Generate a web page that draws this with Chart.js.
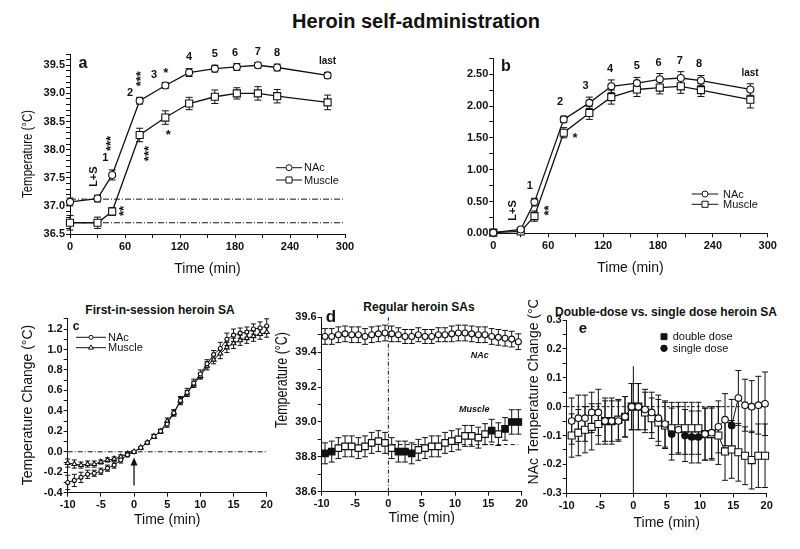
<!DOCTYPE html>
<html lang="en">
<head>
  <meta charset="UTF-8">
  <title>Heroin self-administration</title>
  <script src="https://cdn.jsdelivr.net/npm/chart.js"></script>
  <style>
    body { margin: 0; background: #fff; font-family: "Liberation Sans", Arial, sans-serif; }
    #page { position: relative; width: 800px; height: 549px; overflow: hidden; }
    canvas { position: absolute; }
    .ttl { position: absolute; font-weight: bold; color: #111; white-space: nowrap; transform: translateX(-50%); }
  </style>
</head>
<body>
<div id="page">
  <div class="ttl" style="left:416px; top:11px; font-size:20px; line-height:20px;">Heroin self-administration</div>
  <div class="ttl" style="left:160px; top:304px; font-size:12px; line-height:12px;">First-in-session heroin SA</div>
  <div class="ttl" style="left:419px; top:301px; font-size:12px; line-height:12px;">Regular heroin SAs</div>
  <div class="ttl" style="left:666px; top:306px; font-size:12px; line-height:12px;">Double-dose vs. single dose heroin SA</div>

  <canvas id="chartA" width="400" height="260" style="left:0; top:40px"></canvas>
  <canvas id="chartB" width="400" height="260" style="left:400px; top:40px"></canvas>
  <canvas id="chartC" width="280" height="249" style="left:0; top:300px"></canvas>
  <canvas id="chartD" width="270" height="249" style="left:260px; top:300px"></canvas>
  <canvas id="chartE" width="280" height="249" style="left:520px; top:300px"></canvas>
</div>

<script>
  // ---- data: panel a (absolute temperature) ----
  const TIME_A = [0, 30, 46, 76, 104, 130, 158, 182, 205, 226, 281];
  const NAC_A = [37.07, 37.13, 37.55, 38.87, 39.14, 39.37, 39.44, 39.47, 39.50, 39.46, 39.32];
  const NAC_A_ERR = [0.07, 0.06, 0.09, 0.06, 0.05, 0.07, 0.06, 0.06, 0.05, 0.06, 0.05];
  const MUS_A = [36.70, 36.70, 36.90, 38.26, 38.57, 38.82, 38.94, 39.00, 39.00, 38.95, 38.84];
  const MUS_A_ERR = [0.13, 0.10, 0.07, 0.12, 0.12, 0.11, 0.12, 0.10, 0.12, 0.12, 0.13];
  const BASE_A_NAC = 37.12;
  const BASE_A_MUS = 36.70;

  // ---- panel b (change from baseline) ----
  const TIME_B = [0, 30, 45, 77, 105, 129, 157, 182, 205, 227, 281];
  const NAC_B = [0.01, 0.06, 0.49, 1.79, 2.05, 2.31, 2.36, 2.42, 2.44, 2.40, 2.26];
  const NAC_B_ERR = [0.02, 0.03, 0.06, 0.05, 0.09, 0.10, 0.09, 0.09, 0.10, 0.08, 0.09];
  const MUS_B = [0.01, 0.03, 0.27, 1.58, 1.89, 2.14, 2.26, 2.29, 2.31, 2.25, 2.10];
  const MUS_B_ERR = [0.02, 0.02, 0.08, 0.08, 0.10, 0.11, 0.11, 0.10, 0.11, 0.10, 0.13];

  // ---- panel c (first-in-session) ----
  const TIME_C = [-10, -9, -8, -7, -6, -5, -4, -3, -2, -1, 0, 1, 2, 3, 4, 5, 6, 7, 8, 9, 10, 11, 12, 13, 14, 15, 16, 17, 18, 19, 20];
  const NAC_C = [-0.30, -0.28, -0.25, -0.22, -0.21, -0.19, -0.16, -0.13, -0.08, -0.03, 0.00, 0.04, 0.09, 0.15, 0.20, 0.27, 0.38, 0.50, 0.58, 0.67, 0.76, 0.86, 0.95, 1.01, 1.10, 1.14, 1.16, 1.17, 1.20, 1.21, 1.23];
  const NAC_C_ERR = [0.07, 0.06, 0.05, 0.04, 0.03, 0.03, 0.03, 0.03, 0.03, 0.02, 0.01, 0.01, 0.01, 0.02, 0.02, 0.03, 0.03, 0.04, 0.04, 0.04, 0.04, 0.04, 0.04, 0.06, 0.06, 0.06, 0.05, 0.05, 0.05, 0.06, 0.07];
  const MUS_C = [-0.11, -0.12, -0.13, -0.12, -0.12, -0.10, -0.08, -0.07, -0.05, -0.02, 0.00, 0.04, 0.09, 0.15, 0.20, 0.30, 0.38, 0.50, 0.57, 0.66, 0.74, 0.84, 0.90, 0.96, 1.02, 1.06, 1.09, 1.11, 1.13, 1.15, 1.17];
  const MUS_C_ERR = [0.04, 0.04, 0.03, 0.03, 0.03, 0.02, 0.02, 0.02, 0.02, 0.02, 0.01, 0.01, 0.01, 0.02, 0.02, 0.03, 0.03, 0.03, 0.03, 0.03, 0.03, 0.04, 0.04, 0.05, 0.05, 0.05, 0.05, 0.05, 0.05, 0.05, 0.05];

  // ---- panel d (regular SAs) ----
  const TIME_D = [-9.5, -8.5, -7.5, -6.5, -5.5, -4.5, -3.5, -2.5, -1.5, -0.5, 0.5, 1.5, 2.5, 3.5, 4.5, 5.5, 6.5, 7.5, 8.5, 9.5, 10.5, 11.5, 12.5, 13.5, 14.5, 15.5, 16.5, 17.5, 18.5, 19.5];
  const NAC_D = [39.49, 39.49, 39.50, 39.505, 39.50, 39.50, 39.49, 39.50, 39.505, 39.51, 39.505, 39.50, 39.49, 39.49, 39.50, 39.49, 39.49, 39.50, 39.50, 39.505, 39.51, 39.51, 39.505, 39.50, 39.50, 39.49, 39.485, 39.48, 39.475, 39.46];
  const NAC_D_ERR = [0.045, 0.045, 0.045, 0.045, 0.045, 0.045, 0.045, 0.045, 0.045, 0.045, 0.045, 0.04, 0.04, 0.04, 0.04, 0.04, 0.04, 0.04, 0.04, 0.045, 0.045, 0.045, 0.045, 0.045, 0.045, 0.045, 0.045, 0.045, 0.045, 0.045];
  const MUS_D = [38.82, 38.83, 38.85, 38.86, 38.86, 38.85, 38.86, 38.88, 38.89, 38.88, 38.85, 38.83, 38.83, 38.82, 38.84, 38.85, 38.86, 38.86, 38.88, 38.89, 38.90, 38.92, 38.92, 38.91, 38.93, 38.95, 38.93, 38.96, 39.00, 39.00];
  const MUS_D_ERR = [0.06, 0.06, 0.06, 0.06, 0.06, 0.06, 0.06, 0.06, 0.06, 0.06, 0.06, 0.06, 0.06, 0.06, 0.06, 0.06, 0.06, 0.06, 0.06, 0.06, 0.06, 0.06, 0.06, 0.06, 0.06, 0.065, 0.065, 0.065, 0.07, 0.07];
  const MUS_D_FILLED = [0, 1, 11, 12, 13, 25, 27, 28, 29];
  const BASE_D_MUS = 38.87;

  // ---- panel e (double vs single dose) ----
  const TIME_E = [-9.25, -8.25, -7.25, -6.25, -5.25, -4.25, -3.25, -2.25, -1.25, -0.25, 0.75, 1.75, 2.75, 3.75, 4.75, 5.75, 6.75, 7.75, 8.75, 9.75, 10.75, 11.75, 12.75, 13.75, 14.75, 15.75, 16.75, 17.75, 18.75, 19.75];
  const SINGLE_E = [-0.05, -0.04, -0.04, -0.02, -0.02, -0.05, -0.05, -0.05, -0.035, 0.00, 0.00, -0.01, -0.02, -0.04, -0.06, -0.095, -0.08, -0.10, -0.105, -0.105, -0.095, -0.09, -0.07, -0.045, -0.065, 0.03, 0.005, 0.00, 0.005, 0.01];
  const SINGLE_E_ERR = [0.08, 0.08, 0.08, 0.07, 0.08, 0.08, 0.08, 0.07, 0.07, 0.08, 0.08, 0.07, 0.07, 0.08, 0.08, 0.09, 0.08, 0.09, 0.09, 0.09, 0.09, 0.09, 0.09, 0.09, 0.09, 0.095, 0.09, 0.09, 0.10, 0.11];
  const SINGLE_E_FILLED = [15, 17, 18, 19, 24];
  const DOUBLE_E = [-0.10, -0.09, -0.08, -0.07, -0.06, -0.05, -0.05, -0.045, -0.035, 0.00, 0.00, -0.02, -0.04, -0.055, -0.065, -0.075, -0.075, -0.075, -0.075, -0.075, -0.095, -0.095, -0.10, -0.155, -0.148, -0.158, -0.17, -0.185, -0.17, -0.17];
  const DOUBLE_E_ERR = [0.075, 0.08, 0.08, 0.08, 0.07, 0.07, 0.07, 0.07, 0.07, 0.08, 0.08, 0.07, 0.07, 0.08, 0.08, 0.09, 0.09, 0.09, 0.09, 0.09, 0.09, 0.09, 0.10, 0.10, 0.10, 0.10, 0.10, 0.10, 0.11, 0.11];

  const INK = '#111';
  const FONT = '"Liberation Sans", Arial, Helvetica, sans-serif';
  Chart.defaults.font.family = FONT;
  Chart.defaults.color = INK;

  function fillList(n, idx) {
    const out = [];
    for (let i = 0; i < n; i++) out.push(idx.includes(i) ? INK : '#fff');
    return out;
  }

  function series(xs, ys, errs, style, r, extra) {
    return Object.assign({
      data: xs.map((x, i) => ({ x: x, y: ys[i] })),
      errors: errs,
      capHalf: 3,
      borderColor: INK,
      borderWidth: 1.3,
      pointStyle: style,
      pointRadius: r,
      pointHoverRadius: r,
      pointBorderWidth: 1.1,
      pointBorderColor: INK,
      pointBackgroundColor: '#fff',
      tension: 0,
      clip: false
    }, extra || {});
  }

  function refLine(x1, x2, y, dash) {
    return {
      data: [{ x: x1, y: y }, { x: x2, y: y }],
      borderColor: INK, borderWidth: 1, borderDash: dash,
      pointRadius: 0, pointHoverRadius: 0, clip: false
    };
  }

  function marker(ctx, style, x, y, r, filled) {
    ctx.beginPath();
    if (style === 'circle') {
      ctx.arc(x, y, r, 0, Math.PI * 2);
    } else if (style === 'rect') {
      const s = r / Math.SQRT2;
      ctx.rect(x - s, y - s, 2 * s, 2 * s);
    } else {
      ctx.moveTo(x, y - r);
      ctx.lineTo(x + r * 0.87, y + r * 0.5);
      ctx.lineTo(x - r * 0.87, y + r * 0.5);
      ctx.closePath();
    }
    ctx.fillStyle = filled ? INK : '#fff';
    ctx.fill();
    ctx.stroke();
  }

  // error bars, reference verticals, labels, legend and y title
  function decor(p) {
    return {
      id: 'decor',
      beforeDatasetsDraw(chart) {
        const ctx = chart.ctx, xs = chart.scales.x, ys = chart.scales.y;
        ctx.save();
        ctx.strokeStyle = INK;
        ctx.lineWidth = 1;
        chart.data.datasets.forEach(ds => {
          if (!ds.errors) return;
          const c = ds.capHalf;
          ds.data.forEach((pt, i) => {
            const e = ds.errors[i];
            const px = xs.getPixelForValue(pt.x);
            const y1 = ys.getPixelForValue(pt.y - e);
            const y2 = ys.getPixelForValue(pt.y + e);
            ctx.beginPath();
            ctx.moveTo(px, y1); ctx.lineTo(px, y2);
            ctx.moveTo(px - c, y1); ctx.lineTo(px + c, y1);
            ctx.moveTo(px - c, y2); ctx.lineTo(px + c, y2);
            ctx.stroke();
          });
        });
        (p.vlines || []).forEach(v => {
          const px = xs.getPixelForValue(v.x);
          ctx.setLineDash(v.dash || []);
          ctx.beginPath();
          ctx.moveTo(px, ys.getPixelForValue(v.y1));
          ctx.lineTo(px, ys.getPixelForValue(v.y2));
          ctx.stroke();
        });
        ctx.setLineDash([]);
        if (p.arrow) {
          const a = p.arrow;
          const px = xs.getPixelForValue(a.x);
          const yb = ys.getPixelForValue(a.y1), yt = ys.getPixelForValue(a.y2);
          ctx.lineWidth = 1.3;
          ctx.beginPath();
          ctx.moveTo(px, yb); ctx.lineTo(px, yt + 4);
          ctx.stroke();
          ctx.beginPath();
          ctx.moveTo(px, yt); ctx.lineTo(px - 3.5, yt + 8); ctx.lineTo(px + 3.5, yt + 8);
          ctx.closePath();
          ctx.fillStyle = INK;
          ctx.fill();
        }
        ctx.restore();
      },
      afterDraw(chart) {
        const ctx = chart.ctx, xs = chart.scales.x, ys = chart.scales.y;
        ctx.save();
        ctx.fillStyle = INK;
        ctx.strokeStyle = INK;
        ctx.textAlign = 'center';
        ctx.textBaseline = 'middle';
        (p.texts || []).forEach(t => {
          const x = t.data ? xs.getPixelForValue(t.x) : t.x;
          const y = t.data ? ys.getPixelForValue(t.y) : t.y;
          ctx.font = t.font + ' ' + FONT;
          ctx.save();
          ctx.translate(x, y);
          if (t.rot) ctx.rotate(t.rot);
          ctx.fillText(t.t, 0, 0);
          ctx.restore();
        });
        (p.legend || []).forEach(l => {
          ctx.lineWidth = 1;
          if (l.x2) {
            ctx.beginPath();
            ctx.moveTo(l.x1, l.y); ctx.lineTo(l.x2, l.y);
            ctx.stroke();
          }
          const mx = l.x2 ? (l.x1 + l.x2) / 2 : l.x1;
          marker(ctx, l.style, mx, l.y, l.r, l.filled);
          ctx.fillStyle = INK;
          ctx.font = '11px ' + FONT;
          ctx.textAlign = 'left';
          ctx.fillText(l.label, l.tx, l.y + 0.5);
        });
        if (p.ytitle) {
          const yt = p.ytitle;
          ctx.font = yt.size + 'px ' + FONT;
          ctx.textAlign = 'center';
          ctx.translate(yt.x, yt.y);
          ctx.rotate(-Math.PI / 2);
          if (yt.len) {
            const w = ctx.measureText(yt.text).width;
            ctx.scale(yt.len / w, 1);
          }
          ctx.fillText(yt.text, 0, 0);
        }
        ctx.restore();
      }
    };
  }

  function label(step, dec) {
    return v => {
      const k = Math.round(v / step);
      if (Math.abs(v - k * step) > step * 1e-3) return '';
      return k === 0 ? (0).toFixed(dec) : (k * step).toFixed(dec);
    };
  }

  function makeChart(id, p) {
    return new Chart(document.getElementById(id), {
      type: 'line',
      data: { datasets: p.datasets },
      options: {
        responsive: false,
        animation: false,
        devicePixelRatio: 1,
        events: [],
        layout: { padding: { left: 0, top: p.top, right: p.right, bottom: 0 } },
        plugins: { legend: { display: false }, tooltip: { enabled: false } },
        scales: {
          x: {
            type: 'linear', min: p.xmin, max: p.xmax,
            afterFit: s => { s.height = p.xh; },
            border: { color: INK, width: 1 },
            grid: { drawOnChartArea: false, drawTicks: true, tickLength: 4, color: INK },
            ticks: { stepSize: p.xstep, autoSkip: false, maxRotation: 0, padding: 2, color: INK,
                     font: { size: 11, weight: 'bold' }, callback: label(p.xlab, 0) },
            title: { display: true, text: 'Time (min)', color: INK, font: { size: 14 },
                     padding: { top: 0, bottom: p.tpad } }
          },
          y: {
            type: 'linear', min: p.ymin, max: p.ymax,
            afterFit: s => { s.width = p.yw; },
            border: { color: INK, width: 1 },
            grid: { drawOnChartArea: false, drawTicks: true, tickLength: 4, color: INK },
            ticks: { stepSize: p.ystep, autoSkip: false, padding: 1, color: INK,
                     font: { size: 11, weight: 'bold' }, callback: label(p.ylab, p.ydec) }
          }
        }
      },
      plugins: [decor(p)]
    });
  }

  const BIG = 'bold 11px';
  const STAR = 'bold 13px';
  const UP = -Math.PI / 2;

  // panel a
  makeChart('chartA', {
    top: 14, right: 55, yw: 70, xh: 66, tpad: 22.6,
    xmin: 0, xmax: 300, xstep: 30, xlab: 60,
    ymin: 36.5, ymax: 39.7, ystep: 0.1, ylab: 0.5, ydec: 1,
    datasets: [
      series(TIME_A, NAC_A, NAC_A_ERR, 'circle', 3.5, { capHalf: 3.5 }),
      series(TIME_A, MUS_A, MUS_A_ERR, 'rect', 5, { capHalf: 3.5 }),
      refLine(0, 300, BASE_A_NAC, [6, 2, 1, 2]),
      refLine(0, 300, BASE_A_MUS, [6, 2, 1, 2])
    ],
    texts: [
      { t: 'a', x: 83, y: 24, font: 'bold 16px' },
      { t: 'L+S', data: true, x: 26, y: 37.52, font: BIG, rot: UP },
      { t: '1', data: true, x: 38.5, y: 37.85, font: BIG },
      { t: '2', data: true, x: 65.5, y: 39.0, font: BIG },
      { t: '3', data: true, x: 91.6, y: 39.33, font: BIG },
      { t: '4', data: true, x: 130, y: 39.65, font: BIG },
      { t: '5', data: true, x: 158, y: 39.70, font: BIG },
      { t: '6', data: true, x: 180, y: 39.72, font: BIG },
      { t: '7', data: true, x: 205, y: 39.74, font: BIG },
      { t: '8', data: true, x: 226, y: 39.72, font: BIG },
      { t: 'last', data: true, x: 281, y: 39.58, font: 'bold 10px' },
      { t: '***', data: true, x: 44.7, y: 38.11, font: STAR, rot: UP },
      { t: '***', data: true, x: 77.5, y: 39.26, font: STAR, rot: UP },
      { t: '*', data: true, x: 104.4, y: 39.36, font: STAR },
      { t: '***', data: true, x: 86.5, y: 37.93, font: STAR, rot: UP },
      { t: '*', data: true, x: 107.3, y: 38.26, font: STAR },
      { t: '**', data: true, x: 59, y: 36.91, font: STAR, rot: UP }
    ],
    legend: [
      { x1: 276, x2: 302, y: 127.7, style: 'circle', r: 3, tx: 304, label: 'NAc' },
      { x1: 276, x2: 302, y: 140, style: 'rect', r: 4.3, tx: 304, label: 'Muscle' }
    ],
    ytitle: { text: 'Temperature (°C)', x: 28, y: 114, size: 14, len: 88 }
  });

  // panel b
  makeChart('chartB', {
    top: 18.3, right: 32.3, yw: 93.3, xh: 66.7, tpad: 23.6,
    xmin: 0, xmax: 300, xstep: 30, xlab: 60,
    ymin: 0, ymax: 2.75, ystep: 0.25, ylab: 0.5, ydec: 2,
    datasets: [
      series(TIME_B, NAC_B, NAC_B_ERR, 'circle', 3.5, { capHalf: 3.5 }),
      series(TIME_B, MUS_B, MUS_B_ERR, 'rect', 5, { capHalf: 3.5 })
    ],
    texts: [
      { t: 'b', x: 106, y: 27, font: 'bold 16px' },
      { t: 'L+S', data: true, x: 21.9, y: 0.36, font: BIG, rot: UP },
      { t: '1', data: true, x: 40, y: 0.74, font: BIG },
      { t: '2', data: true, x: 72.9, y: 2.06, font: BIG },
      { t: '3', data: true, x: 101, y: 2.31, font: BIG },
      { t: '4', data: true, x: 127.6, y: 2.59, font: BIG },
      { t: '5', data: true, x: 156.8, y: 2.63, font: BIG },
      { t: '6', data: true, x: 180.8, y: 2.68, font: BIG },
      { t: '7', data: true, x: 204, y: 2.71, font: BIG },
      { t: '8', data: true, x: 225, y: 2.66, font: BIG },
      { t: 'last', data: true, x: 280.7, y: 2.51, font: 'bold 10px' },
      { t: '**', data: true, x: 60.9, y: 0.36, font: STAR, rot: UP },
      { t: '*', data: true, x: 89.3, y: 1.49, font: STAR }
    ],
    legend: [
      { x1: 291.7, x2: 318.3, y: 154, style: 'circle', r: 3, tx: 323, label: 'NAc' },
      { x1: 291.7, x2: 318.3, y: 164.3, style: 'rect', r: 4.3, tx: 323, label: 'Muscle' }
    ]
  });

  // panel c
  makeChart('chartC', {
    top: 18.8, right: 13.3, yw: 67.7, xh: 56.3, tpad: 20.6,
    xmin: -10, xmax: 20, xstep: 5, xlab: 5,
    ymin: -0.4, ymax: 1.3, ystep: 0.1, ylab: 0.2, ydec: 1,
    datasets: [
      series(TIME_C, NAC_C, NAC_C_ERR, 'circle', 2, { capHalf: 2.5, borderWidth: 1 }),
      series(TIME_C, MUS_C, MUS_C_ERR, 'triangle', 2.8, { capHalf: 2.5, borderWidth: 1 }),
      refLine(-10, 20, 0, [5, 2, 1, 2])
    ],
    arrow: { x: 0, y1: -0.33, y2: -0.055 },
    texts: [
      { t: 'c', x: 76, y: 27, font: 'bold 12px' }
    ],
    legend: [
      { x1: 76, x2: 106, y: 37.3, style: 'circle', r: 2, tx: 108, label: 'NAc' },
      { x1: 76, x2: 106, y: 47.7, style: 'triangle', r: 2.8, tx: 108, label: 'Muscle' }
    ],
    ytitle: { text: 'Temperature Change (°C)', x: 28, y: 105, size: 14 }
  });

  // panel d
  makeChart('chartD', {
    top: 17.3, right: 8.3, yw: 61.7, xh: 57.3, tpad: 22.6,
    xmin: -10, xmax: 20, xstep: 5, xlab: 5,
    ymin: 38.6, ymax: 39.6, ystep: 0.1, ylab: 0.2, ydec: 1,
    datasets: [
      series(TIME_D, NAC_D, NAC_D_ERR, 'circle', 3, { capHalf: 3, borderWidth: 0.8 }),
      series(TIME_D, MUS_D, MUS_D_ERR, 'rect', 4.6, { capHalf: 3, borderWidth: 0.8,
        pointBackgroundColor: fillList(MUS_D.length, MUS_D_FILLED) }),
      refLine(0.5, 19.5, BASE_D_MUS, [4, 3])
    ],
    vlines: [{ x: 0, y1: 38.6, y2: 39.6, dash: [4, 2, 1, 2] }],
    texts: [
      { t: 'd', x: 71, y: 17, font: 'bold 17px' },
      { t: 'NAc', data: true, x: 13.7, y: 39.38, font: 'italic bold 9px' },
      { t: 'Muscle', data: true, x: 12.9, y: 39.07, font: 'italic bold 9px' }
    ],
    ytitle: { text: 'Temperature (°C)', x: 23, y: 80, size: 16, len: 96 }
  });

  // panel e
  makeChart('chartE', {
    top: 20, right: 33.3, yw: 46.7, xh: 55.7, tpad: 17.6,
    xmin: -10, xmax: 20, xstep: 5, xlab: 5,
    ymin: -0.3, ymax: 0.3, ystep: 0.05, ylab: 0.1, ydec: 1,
    datasets: [
      series(TIME_E, SINGLE_E, SINGLE_E_ERR, 'circle', 3.3, { capHalf: 3, borderWidth: 1,
        pointBackgroundColor: fillList(SINGLE_E.length, SINGLE_E_FILLED) }),
      series(TIME_E, DOUBLE_E, DOUBLE_E_ERR, 'rect', 5, { capHalf: 3, borderWidth: 1 }),
      refLine(-10, 20, 0, [3, 2])
    ],
    vlines: [{ x: 0, y1: -0.3, y2: 0.14 }],
    texts: [
      { t: 'e', x: 63, y: 29, font: 'bold 15px' }
    ],
    legend: [
      { x1: 144, y: 36.7, style: 'rect', r: 4.2, filled: true, tx: 152.7, label: 'double dose' },
      { x1: 144, y: 48.3, style: 'circle', r: 3.2, filled: true, tx: 152.7, label: 'single dose' }
    ],
    ytitle: { text: 'NAc Temperature Change (°C)', x: 14, y: 89, size: 14 }
  });
</script>
</body>
</html>
